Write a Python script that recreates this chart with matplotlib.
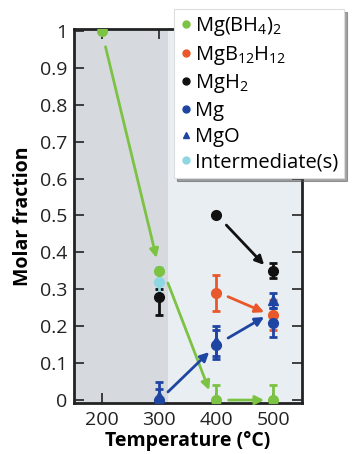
import matplotlib
matplotlib.use("Agg")
import matplotlib.pyplot as plt
import numpy as np

plt.rcParams['font.family'] = ['Open Sans', 'DejaVu Sans']
plt.rcParams['mathtext.fontset'] = 'custom'
plt.rcParams['mathtext.rm'] = 'Open Sans'
plt.rcParams['mathtext.it'] = 'Open Sans:italic'
plt.rcParams['mathtext.bf'] = 'Open Sans:bold'

# Data
temps_bh4 = [200, 300, 400, 500]
mgbh4 = [1.0, 0.35, 0.0, 0.0]
mgbh4_err = [0.0, 0.0, 0.04, 0.04]

temps_b12 = [400, 500]
mgb12 = [0.29, 0.23]
mgb12_err = [0.05, 0.04]

temps_h2 = [300, 400, 500]
mgh2 = [0.28, 0.50, 0.35]
mgh2_err_lo = [0.05, 0.0, 0.02]
mgh2_err_hi = [0.02, 0.0, 0.02]

temps_mg = [300, 400, 500]
mg = [0.0, 0.15, 0.21]
mg_err = [0.03, 0.04, 0.04]

temps_mgo = [300, 400, 500]
mgo = [0.01, 0.16, 0.27]
mgo_err = [0.04, 0.04, 0.02]

temps_int = [300]
inter = [0.32]
inter_err = [0.04]

xticks = [200, 300, 400, 500]
yticks = [0, 0.1, 0.2, 0.3, 0.4, 0.5, 0.6, 0.7, 0.8, 0.9, 1]
yticklabels = ['0', '0.1', '0.2', '0.3', '0.4', '0.5', '0.6', '0.7', '0.8', '0.9', '1']

green = '#7cc243'
orange = '#e8582a'
black = '#111111'
blue = '#1f45a3'
cyan = '#8fd6e3'

# arrows: (x0, y0, x1, y1, color)
arrows = [
    (207, 0.957, 296, 0.385, green),
    (316, 0.317, 388, 0.027, green),
    (422, 0.0, 484, 0.0, green),
    (418, 0.474, 484, 0.366, black),
    (421, 0.28, 484, 0.238, orange),
    (316, 0.022, 388, 0.13, blue),
    (421, 0.168, 484, 0.225, blue),
]

fig = plt.figure(figsize=(3.55, 4.54), dpi=100)
ax = fig.add_axes([0.2085, 0.1123, 0.642, 0.8237])
ax.set_xlim(152, 550)
ax.set_ylim(-0.008, 1.005)

ax.axvspan(152, 316, color='#d6dade', zorder=0, lw=0)
ax.axvspan(316, 550, color='#e9eef2', zorder=0, lw=0)

for (x0, y0, x1, y1, c) in arrows:
    ax.annotate('', xy=(x1, y1), xytext=(x0, y0),
                arrowprops=dict(arrowstyle='-|>', color=c, lw=2,
                                mutation_scale=13, shrinkA=0, shrinkB=0),
                zorder=3)

ekw = dict(elinewidth=2, capsize=3, capthick=2, zorder=4)
ax.errorbar(temps_bh4, mgbh4, yerr=mgbh4_err, fmt='o', color=green, ms=7, **ekw)
ax.errorbar(temps_b12, mgb12, yerr=mgb12_err, fmt='o', color=orange, ms=7, **ekw)
ax.errorbar(temps_h2, mgh2, yerr=[mgh2_err_lo, mgh2_err_hi], fmt='o', color=black, ms=7, **ekw)
ax.errorbar(temps_int, inter, yerr=inter_err, fmt='o', color=cyan, ms=7, **ekw)
ax.errorbar(temps_mgo, mgo, yerr=mgo_err, fmt='^', color=blue, ms=7, **ekw)
ax.errorbar(temps_mg, mg, yerr=mg_err, fmt='o', color=blue, ms=7, **ekw)

ax.set_xticks(xticks)
ax.set_yticks(yticks)
ax.set_yticklabels(yticklabels)
ax.tick_params(direction='in', length=7, width=1.2, top=True, right=True,
               labelsize=14, colors='#222222', pad=5)
ax.tick_params(axis='x', pad=6)
for s in ax.spines.values():
    s.set_linewidth(2)
    s.set_color('#222222')

ax.set_xlabel('Temperature (°C)', fontsize=14, fontweight='bold', labelpad=1)
ax.set_ylabel('Molar fraction', fontsize=14, fontweight='bold', labelpad=5)

from matplotlib.lines import Line2D
handles = [
    Line2D([], [], ls='', marker='o', color=green, ms=5),
    Line2D([], [], ls='', marker='o', color=orange, ms=5),
    Line2D([], [], ls='', marker='o', color=black, ms=5),
    Line2D([], [], ls='', marker='o', color=blue, ms=5),
    Line2D([], [], ls='', marker='^', color=blue, ms=5),
    Line2D([], [], ls='', marker='o', color=cyan, ms=5),
]
labels = ['Mg(BH$_4$)$_2$', 'MgB$_{12}$H$_{12}$', 'MgH$_2$', 'Mg', 'MgO', 'Intermediate(s)']
leg = fig.legend(handles, labels, loc='upper left', bbox_to_anchor=(0.49, 0.98),
                 fontsize=14.5, frameon=True, fancybox=False, shadow=True,
                 handlelength=0.55, handletextpad=0.2, borderpad=0.3,
                 labelspacing=0.28, borderaxespad=0)
leg.get_frame().set_edgecolor('#dddddd')
leg.get_frame().set_linewidth(0.8)

fig.savefig('out.png', dpi=100)
